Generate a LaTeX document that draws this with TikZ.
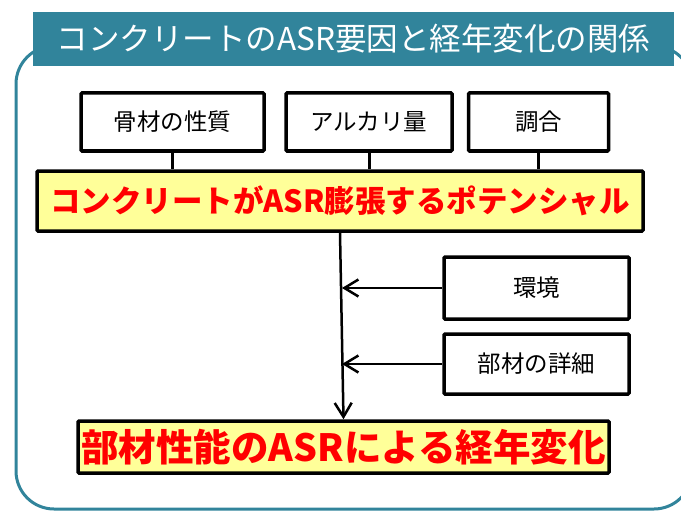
\documentclass[tikz,border=0pt]{standalone}
\usepackage{fontspec}
\setmainfont{Noto Sans CJK JP}
\usetikzlibrary{arrows.meta}
\definecolor{teal1}{HTML}{31849B}
\definecolor{lyellow}{HTML}{FFFF99}
\begin{document}
\begin{tikzpicture}[x=1pt,y=-1pt,
  frame/.style={draw=teal1,line width=3pt,rounded corners=38pt},
  banner/.style={fill=teal1,text=white,inner sep=0pt,minimum width=641pt,minimum height=54pt,font=\fontsize{31.5}{35}\selectfont},
  wbox/.style={draw=black,line width=3.5pt,fill=white,inner sep=0pt,minimum height=58pt,rounded corners=1pt,font=\fontsize{23.5}{27}\selectfont},
  ybox/.style={draw=black,line width=3.5pt,fill=lyellow,inner sep=0pt,text=red,rounded corners=1pt,font=\bfseries},
  link/.style={draw=black,line width=3pt},
  arr/.style={draw=black,line width=2.5pt,-{Straight Barb[length=14pt,width=17pt]}}
]
\useasboundingbox (0,0) rectangle (681,511);
\begin{scope}
\clip (0,0) rectangle (681,511);
\draw[frame] (16,46) rectangle (692,509);
\end{scope}
\node[banner] (title) at (353.5,39) {コンクリートのASR要因と経年変化の関係};

\node[wbox,minimum width=183pt] (b1) at (172.5,122) {骨材の性質};
\node[wbox,minimum width=166pt] (b2) at (369,122) {アルカリ量};
\node[wbox,minimum width=140pt] (b3) at (538.5,122) {調合};

\node[ybox,minimum width=606pt,minimum height=60pt,font=\bfseries\fontsize{30.5}{35}\selectfont] (y1) at (340,201) {コンクリートがASR膨張するポテンシャル};

\draw[link] (b1.south) -- (b1.south |- y1.north);
\draw[link] (b2.south) -- (b2.south |- y1.north);
\draw[link] (b3.south) -- (b3.south |- y1.north);

\node[wbox,minimum width=185pt,minimum height=62pt] (env) at (536.5,288) {環境};
\node[wbox,minimum width=185pt,minimum height=60pt] (det) at (536.5,364) {部材の詳細};

\node[ybox,minimum width=531pt,minimum height=52pt,font=\bfseries\fontsize{37.5}{40}\selectfont] (y2) at (343.5,447) {部材性能のASRによる経年変化};

\coordinate (e1) at (342,288);
\coordinate (e2) at (342,364);
\draw[arr] (y1.south) -- (y2.north);
\draw[arr] (env.west) -- (e1);
\draw[arr] (det.west) -- (e2);
\end{tikzpicture}
\end{document}
